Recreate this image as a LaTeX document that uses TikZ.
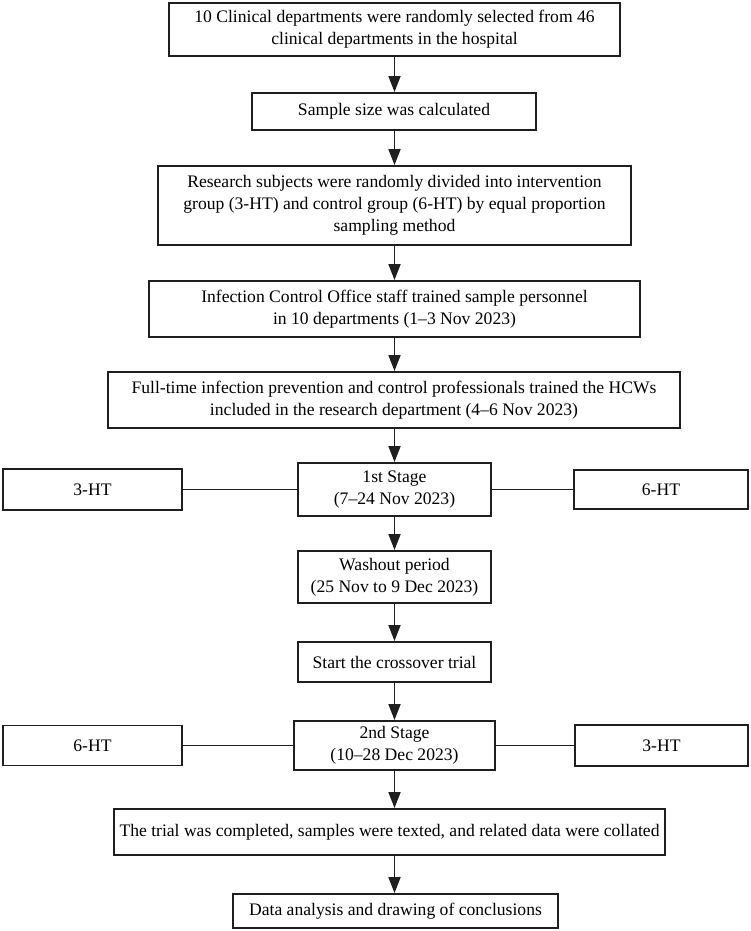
\documentclass[tikz,border=0pt]{standalone}
\usepackage{fontspec}
\setmainfont{Liberation Serif}
\usetikzlibrary{arrows.meta}
\begin{document}
\begin{tikzpicture}[x=1pt,y=-1pt,
 box/.style={draw=black!88, line width=1.9pt, align=center, inner sep=0pt, font=\fontsize{17.6}{21.8}\selectfont},
 arr/.style={line width=1.8pt, draw=black!88, -{Triangle[length=16pt,width=12pt]}},
 link/.style={line width=1.6pt, draw=black!88}]
\useasboundingbox (0,0) rectangle (750,931);
\node[box, minimum width=451pt, minimum height=53pt] (b1) at (394.5,29.5) {10 Clinical departments were randomly selected from 46\\clinical departments in the hospital};
\node[box, minimum width=284pt, minimum height=37pt] (b2) at (394,111.5) {Sample size was calculated};
\node[box, minimum width=473pt, minimum height=79pt] (b3) at (394.5,205.5) {Research subjects were randomly divided into intervention\\group (3-HT) and control group (6-HT) by equal proportion\\sampling method};
\node[box, minimum width=491pt, minimum height=56pt] (b4) at (394.5,309) {Infection Control Office staff trained sample personnel\\in 10 departments (1--3 Nov 2023)};
\node[box, minimum width=572pt, minimum height=56pt] (b5) at (394,400) {Full-time infection prevention and control professionals trained the HCWs\\included in the research department (4--6 Nov 2023)};
\node[box, minimum width=193pt, minimum height=53pt] (s1) at (394.5,489.5) {1st Stage\\(7--24 Nov 2023)};
\node[box, minimum width=179pt, minimum height=41pt] (l1) at (92.5,489.5) {3-HT};
\node[box, minimum width=174pt, minimum height=39pt] (r1) at (661,489.5) {6-HT};
\node[box, minimum width=193pt, minimum height=52pt] (w) at (394.5,577) {Washout period\\(25 Nov to 9 Dec 2023)};
\node[box, minimum width=193pt, minimum height=40pt] (c) at (394.5,662) {Start the crossover trial};
\node[box, minimum width=201pt, minimum height=49pt] (s2) at (394.5,745.5) {2nd Stage\\(10--28 Dec 2023)};
\node[box, minimum width=179pt, minimum height=40pt] (l2) at (92.5,745.5) {6-HT};
\node[box, minimum width=173pt, minimum height=41pt] (r2) at (661.5,745.5) {3-HT};
\node[box, minimum width=551pt, minimum height=46pt] (t) at (389.5,832) {The trial was completed, samples were texted, and related data were collated};
\node[box, minimum width=325pt, minimum height=34pt] (d) at (395.5,911) {Data analysis and drawing of conclusions};
\draw[arr] (b1.south) -- (b1.south |- b2.north);
\draw[arr] (b1.south |- b2.south) -- (b1.south |- b3.north);
\draw[arr] (b1.south |- b3.south) -- (b1.south |- b4.north);
\draw[arr] (b1.south |- b4.south) -- (b1.south |- b5.north);
\draw[arr] (b1.south |- b5.south) -- (b1.south |- s1.north);
\draw[arr] (s1.south) -- (w.north);
\draw[arr] (w.south) -- (c.north);
\draw[arr] (c.south) -- (s2.north);
\draw[arr] (s2.south) -- (s2.south |- t.north);
\draw[arr] (s2.south |- t.south) -- (s2.south |- d.north);
\draw[link] (l1.east) -- (s1.west);
\draw[link] (s1.east) -- (r1.west);
\draw[link] (l2.east) -- (s2.west);
\draw[link] (s2.east) -- (r2.west);
\end{tikzpicture}
\end{document}
